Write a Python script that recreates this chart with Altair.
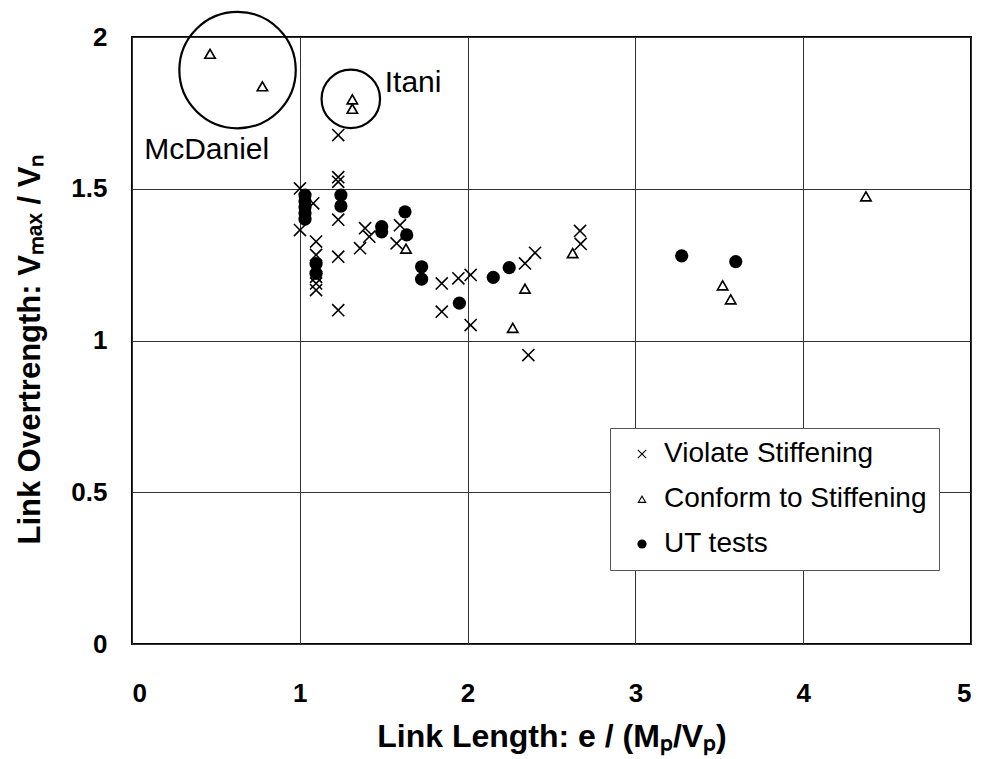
import altair as alt
import pandas as pd

# ---- data ----
violate_x = [1.229, 1.229, 1.229, 1.001, 1.080, 1.001, 1.229, 1.097, 1.097, 1.097,
             1.097, 1.097, 1.097, 1.229, 1.229, 1.389, 1.414, 1.359, 1.597, 1.577,
             1.846, 1.846, 1.945, 2.018, 2.018, 2.342, 2.402, 2.362, 2.674, 2.670]
violate_y = [1.677, 1.538, 1.523, 1.501, 1.452, 1.364, 1.398, 1.326, 1.282, 1.240,
             1.210, 1.188, 1.166, 1.276, 1.100, 1.370, 1.342, 1.304, 1.380, 1.320,
             1.188, 1.095, 1.205, 1.216, 1.051, 1.254, 1.289, 0.952, 1.318, 1.361]

conform_x = [0.465, 0.777, 1.313, 1.313, 1.633, 2.342, 2.269, 2.626, 3.520, 3.568, 4.374]
conform_y = [1.946, 1.839, 1.796, 1.765, 1.304, 1.172, 1.043, 1.289, 1.183, 1.137, 1.476]

ut_x = [1.031, 1.031, 1.031, 1.031, 1.031, 1.097, 1.097, 1.245, 1.245, 1.488,
        1.488, 1.627, 1.637, 1.726, 1.726, 1.951, 2.153, 2.248, 3.276, 3.598]
ut_y = [1.479, 1.460, 1.440, 1.420, 1.400, 1.253, 1.221, 1.479, 1.443, 1.375,
        1.358, 1.424, 1.348, 1.243, 1.202, 1.123, 1.208, 1.240, 1.279, 1.260]

series_names = ["Violate Stiffening", "Conform to Stiffening", "UT tests"]

# annotation groups (circle centres and labels, in data units)
group_names = ["McDaniel", "Itani"]
group_cx = [0.629, 1.304]
group_cy = [1.891, 1.796]
label_x = [0.445, 1.675]
label_y = [1.628, 1.850]

x_ticks = [0, 1, 2, 3, 4, 5]
y_ticks = [0, 0.5, 1, 1.5, 2]

# ---- build table ----
rows = []
for xs, ys, name in [(violate_x, violate_y, series_names[0]),
                     (conform_x, conform_y, series_names[1]),
                     (ut_x, ut_y, series_names[2])]:
    for a, b in zip(xs, ys):
        rows.append({"x": a, "y": b, "series": name})
df = pd.DataFrame(rows)

# filled outline symbols (so that marks and legend need no stroke)
X_PATH = ("M-0.83,-1L0,-0.17L0.83,-1L1,-0.83L0.17,0L1,0.83L0.83,1L0,0.17"
          "L-0.83,1L-1,0.83L-0.17,0L-1,-0.83Z")
TRI_PATH = ("M0,-0.866L1,0.866L-1,0.866Z"
            "M0,-0.366L-0.567,0.616L0.567,0.616Z")
FONT = "Liberation Sans"

x_scale = alt.Scale(domain=[0, 5], nice=False, zero=False)
y_scale = alt.Scale(domain=[0, 2], nice=False, zero=False)

legend_props = dict(
    title=None, orient="none", legendX=478, legendY=391,
    labelFontSize=28, labelFont=FONT,
    labelColor="black", strokeColor="#555555", fillColor="white",
    padding=12, rowPadding=17, symbolSize=85, symbolFillColor="black",
    symbolStrokeWidth=0,
    labelLimit=500, labelOffset=8, symbolOffset=6,
)

points = alt.Chart(df).mark_point(filled=True, color="black", opacity=1).encode(
    x=alt.X("x:Q", scale=x_scale, axis=alt.Axis(
        values=x_ticks, title="Link Length: e / (Mₚ/Vₚ)", format="d", titleFontSize=32,
        labelPadding=36, titleY=92, titleBaseline="middle")),
    y=alt.Y("y:Q", scale=y_scale, axis=alt.Axis(
        values=y_ticks, title="Link Overtrength: Vₘₐₓ / Vₙ", labelPadding=25,
        format=".1~f", titleFontSize=31,
        titleX=-102, titleY=312, titleBaseline="middle", titleAlign="center")),
    shape=alt.Shape("series:N", scale=alt.Scale(domain=series_names,
                    range=[X_PATH, TRI_PATH, "circle"]), legend=alt.Legend(**legend_props)),
    size=alt.Size("series:N", scale=alt.Scale(domain=series_names, range=[175, 175, 120]), legend=None),
)

circ_df = pd.DataFrame({"x": group_cx, "y": group_cy, "name": group_names})
circles = alt.Chart(circ_df).mark_point(shape="circle", filled=False, stroke="black",
                                         strokeWidth=2.2, opacity=1).encode(
    x=alt.X("x:Q", scale=x_scale),
    y=alt.Y("y:Q", scale=y_scale),
    size=alt.Size("name:N", scale=alt.Scale(domain=group_names, range=[13550, 3420]), legend=None),
)

lab_df = pd.DataFrame({"x": label_x, "y": label_y, "name": group_names})
labels = alt.Chart(lab_df).mark_text(font=FONT, fontSize=30, color="black",
                                     align="center", baseline="middle").encode(
    x=alt.X("x:Q", scale=x_scale),
    y=alt.Y("y:Q", scale=y_scale),
    text="name:N",
)

chart = alt.layer(points, circles, labels).resolve_scale(size="independent").properties(
    width=839, height=607,
    autosize=alt.AutoSizeParams(type="none"),
    padding={"left": 124, "top": 29, "right": 5, "bottom": 114},
    background="white",
).configure_view(stroke="black", strokeWidth=2).configure_axis(
    grid=True, gridColor="#333333", gridWidth=1, gridOpacity=1,
    domain=False, ticks=False,
    labelFont=FONT, labelFontSize=26, labelFontWeight="bold", labelColor="black",
    titleFont=FONT, titleFontSize=29, titleFontWeight="bold", titleColor="black",
)

chart.save("out.html", embed_options={"renderer": "svg", "actions": False})
